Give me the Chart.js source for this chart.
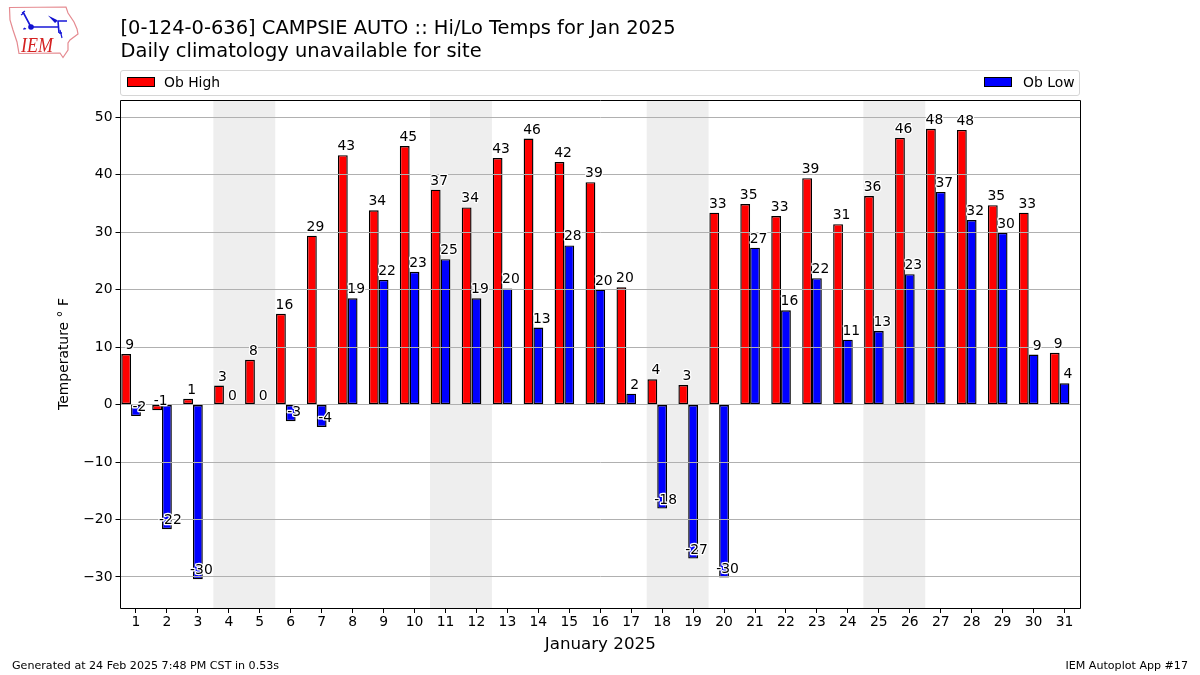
<!DOCTYPE html>
<html>
<head>
<meta charset="utf-8">
<title>CAMPSIE AUTO Hi/Lo Temps</title>
<script src="https://cdn.jsdelivr.net/npm/chart.js@4/dist/chart.umd.min.js"></script>
<style>
  html, body { margin: 0; padding: 0; background: #fff; }
  #wrap { position: relative; width: 1200px; height: 675px; overflow: hidden; font-family: "DejaVu Sans", sans-serif; color: #000; }
  #chart { position: absolute; left: 0; top: 0; }
  #logo { position: absolute; left: 0; top: 0; }
  #legend { position: absolute; left: 120px; top: 70px; width: 958px; height: 24px; border: 1px solid #d6d6d6; border-radius: 3px; font-size: 13.9px; }
  #legend span.swatch { position: absolute; top: 6px; width: 26px; height: 8px; border: 1px solid #000; }
  #legend span.name { position: absolute; top: 3px; white-space: nowrap; }
  .foot { position: absolute; top: 659px; font-size: 11.1px; white-space: nowrap; }
</style>
</head>
<body>
<div id="wrap">
  <canvas id="chart" width="1200" height="675"></canvas>
  <svg id="logo" width="90" height="65" viewBox="0 0 90 65">
    <path d="M9.5 7.5 L66 7 L68 13 L74 22 L77 29 L78 34 L70 40 L68 43 L68 50 L63 57.5 L60 53 L19 53.5 L17 42 L13 30 L10 20 Z" fill="none" stroke="#e58a90" stroke-width="1.2"/>
    <path d="M31 27 L58 27 M58 21 L67 21 M58 21 L59 33 M23 12 L31 27 M59 33 L62 33" stroke="#1818d8" stroke-width="1.6" fill="none"/>
    <circle cx="31" cy="27" r="2.8" fill="#1010d0"/>
    <path d="M48 15.5 L58 20.5 L55 23 Z" fill="#1010d0"/>
    <path d="M22 13 L25 11 M21 15 L24 13 M60 30 L62 38 M24 28 L26 29 M23 29 L25 29" stroke="#1818d8" stroke-width="1.2" fill="none"/>
    <text x="21" y="52" font-family="Liberation Serif" font-style="italic" font-size="22" textLength="32" lengthAdjust="spacingAndGlyphs" fill="#d42020">IEM</text>
  </svg>
  <div id="legend"></div>
  <div class="foot" style="left:12px">Generated at 24 Feb 2025 7:48 PM CST in 0.53s</div>
  <div class="foot" style="right:12px">IEM Autoplot App #17</div>
</div>
<script>
const days = ['1','2','3','4','5','6','7','8','9','10','11','12','13','14','15','16','17','18','19','20','21','22','23','24','25','26','27','28','29','30','31'];
const obHigh = [8.8,-1,1,3.3,7.8,15.8,29.4,43.4,33.8,45,37.4,34.3,42.9,46.3,42.2,38.7,20.4,4.4,3.4,33.4,34.9,32.8,39.4,31.4,36.3,46.4,48,47.8,34.7,33.4,9];
const obLow = [-2,-21.7,-30.4,0,0,-2.9,-3.9,18.5,21.7,23.1,25.3,18.5,20.2,13.4,27.7,20,1.9,-18.1,-26.8,-30.1,27.3,16.4,22,11.3,12.8,22.7,37,32.1,29.9,8.7,3.7];
const weekendStarts = ['4','11','18','25'];
const titleLines = ['[0-124-0-636] CAMPSIE AUTO :: Hi/Lo Temps for Jan 2025', 'Daily climatology unavailable for site'];

const FONT = '"DejaVu Sans", sans-serif';

// grey bands behind the weekends, two days wide
const weekendBands = {
    id: 'weekendBands',
    beforeDatasetsDraw(chart) {
        const x = chart.scales.x, area = chart.chartArea, ctx = chart.ctx;
        const step = x.getPixelForValue(1) - x.getPixelForValue(0);
        ctx.save();
        ctx.fillStyle = '#eeeeee';
        weekendStarts.forEach((d) => {
            const left = x.getPixelForValue(days.indexOf(d)) - step / 2;
            ctx.fillRect(left, area.top, step * 2, area.bottom - area.top);
        });
        ctx.restore();
    }
};

// rounded value above each bar end, with a white halo; also the axes frame
const barLabels = {
    id: 'barLabels',
    afterDraw(chart) {
        const ctx = chart.ctx, area = chart.chartArea;
        ctx.save();
        ctx.font = '13.9px ' + FONT;
        ctx.textAlign = 'center';
        ctx.textBaseline = 'alphabetic';
        ctx.lineJoin = 'round';
        [0, 1].forEach((i) => {
            chart.getDatasetMeta(i).data.forEach((bar, j) => {
                const value = chart.data.datasets[i].data[j];
                const text = String(Math.round(value));
                const px = bar.x + 3.5;
                const py = chart.scales.y.getPixelForValue(value) - 5;
                ctx.strokeStyle = '#fff';
                ctx.lineWidth = 2.5;
                ctx.strokeText(text, px, py);
                ctx.fillStyle = '#000';
                ctx.fillText(text, px, py);
            });
        });
        ctx.strokeStyle = '#000';
        ctx.lineWidth = 1;
        const left = Math.floor(area.left) + 0.5, top = Math.floor(area.top) + 0.5;
        const right = Math.floor(area.right) + 0.5, bottom = Math.floor(area.bottom) + 0.5;
        ctx.strokeRect(left, top, right - left, bottom - top);
        ctx.restore();
    }
};

const chart = new Chart(document.getElementById('chart').getContext('2d'), {
    type: 'bar',
    data: {
        labels: days,
        datasets: [
            { label: 'Ob High', data: obHigh, backgroundColor: '#ff0000', borderColor: '#000', borderWidth: 1.4, borderSkipped: false },
            { label: 'Ob Low', data: obLow, backgroundColor: '#0000ff', borderColor: '#000', borderWidth: 1.4, borderSkipped: false },
            // empty third slot so the low bar sits centred on the tick
            { label: '', data: [] }
        ]
    },
    options: {
        responsive: false,
        animation: false,
        events: [],
        categoryPercentage: 0.95,
        barPercentage: 1,
        layout: { padding: { top: 18, right: 120, bottom: 18, left: 56 } },
        plugins: {
            legend: { display: false },
            tooltip: { enabled: false },
            title: {
                display: true,
                text: titleLines,
                align: 'start',
                fullSize: false,
                color: '#000',
                font: { family: FONT, size: 19.44, weight: 'normal', lineHeight: 1.15 },
                padding: { top: 0, bottom: 37.3 }
            }
        },
        scales: {
            x: {
                afterFit: (scale) => { scale.height = 49; },
                grid: { offset: false, drawOnChartArea: false, tickColor: '#000', tickLength: 5 },
                border: { display: false },
                ticks: { autoSkip: false, maxRotation: 0, color: '#000', padding: 1, font: { family: FONT, size: 13.9 } },
                title: { display: true, text: 'January 2025', color: '#000', font: { family: FONT, size: 16.7 }, padding: { top: 3, bottom: 2 } }
            },
            y: {
                min: -35.4,
                max: 53,
                afterFit: (scale) => { scale.width = 64.5; },
                grid: { color: '#b0b0b0', lineWidth: 1, z: 1, tickColor: '#000', tickLength: 5 },
                border: { display: false },
                ticks: {
                    stepSize: 10,
                    includeBounds: false,
                    color: '#000',
                    padding: 3,
                    font: { family: FONT, size: 13.9 },
                    callback: (v) => String(v).replace('-', '\u2212')
                },
                title: { display: true, text: 'Temperature \u00b0 F', color: '#000', font: { family: FONT, size: 13.9 }, padding: 0 }
            }
        }
    },
    plugins: [weekendBands, barLabels]
});

// legend spread across the width of the axes
const legend = document.getElementById('legend');
const legendSlots = [{ swatch: 6, name: 43 }, { swatch: 863, name: 902 }];
legendSlots.forEach((slot, i) => {
    const ds = chart.data.datasets[i];
    const sw = document.createElement('span');
    sw.className = 'swatch';
    sw.style.left = slot.swatch + 'px';
    sw.style.background = ds.backgroundColor;
    const nm = document.createElement('span');
    nm.className = 'name';
    nm.style.left = slot.name + 'px';
    nm.textContent = ds.label;
    legend.appendChild(sw);
    legend.appendChild(nm);
});
</script>
</body>
</html>
